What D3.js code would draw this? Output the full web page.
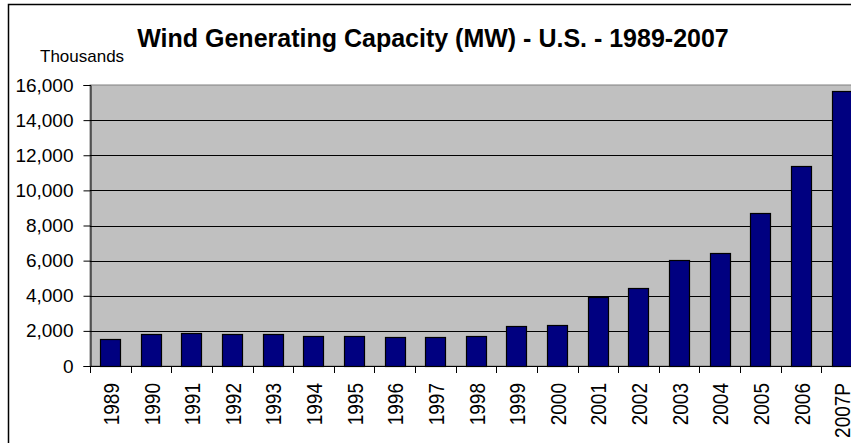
<!DOCTYPE html>
<html>
<head>
<meta charset="utf-8">
<script src="https://cdn.jsdelivr.net/npm/d3@7"></script>
<style>
  body { margin: 0; background: #fff; }
  text { font-family: "Liberation Sans", Arial, sans-serif; fill: #000; }
</style>
</head>
<body>
<svg width="851" height="443"></svg>
<script>
// data (MW)
let years = ["1989","1990","1991","1992","1993","1994","1995","1996","1997","1998",
             "1999","2000","2001","2002","2003","2004","2005","2006","2007P"];
let capacity = [1525, 1810, 1880, 1810, 1810, 1730, 1730, 1640, 1640, 1720,
                2260, 2360, 3920, 4450, 6010, 6460, 8720, 11370, 15660];
let yTicks = [0, 2000, 4000, 6000, 8000, 10000, 12000, 14000, 16000];

let svg = d3.select('svg');

// outer chart border (runs off the window on the right and bottom)
svg.append("rect")
  .attr("x", 8.5).attr("y", 4.5)
  .attr("width", 900).attr("height", 500)
  .attr("fill", "#fff")
  .attr("stroke", "#000")
  .attr("stroke-width", 1.5);

let plotLeft = 90, plotRight = 862, plotTop = 85, plotBottom = 366;

let xScale = d3.scaleBand()
  .domain(years)
  .range([plotLeft, plotRight])
  .paddingInner(0.5)
  .paddingOuter(0.25);

let yScale = d3.scaleLinear()
  .domain([0, 16000])
  .range([plotBottom, plotTop]);

// plot area
svg.append("rect")
  .attr("x", plotLeft).attr("y", plotTop)
  .attr("width", plotRight - plotLeft).attr("height", plotBottom - plotTop)
  .attr("fill", "#c0c0c0")
  .attr("stroke", "#808080")
  .attr("stroke-width", 1);

// gridlines
svg.append("g")
  .selectAll("line")
  .data(yTicks.filter(d => d > 0 && d < 16000))
  .enter()
  .append("line")
  .attr("x1", plotLeft).attr("x2", plotRight)
  .attr("y1", d => Math.round(yScale(d)) + 0.5)
  .attr("y2", d => Math.round(yScale(d)) + 0.5)
  .attr("stroke", "#000")
  .attr("stroke-width", 1);

// bars
svg.append("g")
  .selectAll("rect")
  .data(capacity)
  .enter()
  .append("rect")
  .attr("x", (d, i) => Math.round(xScale(years[i])) + 0.5)
  .attr("y", d => Math.round(yScale(d)) + 0.5)
  .attr("width", Math.round(xScale.bandwidth()))
  .attr("height", d => Math.round(yScale(0)) - Math.round(yScale(d)))
  .attr("fill", "#000080")
  .attr("stroke", "#000")
  .attr("stroke-width", 1.2);

// y axis
let yAxis = svg.append("g")
  .attr("transform", "translate(" + (plotLeft + 0.5) + ",0)")
  .call(d3.axisLeft(yScale).tickValues(yTicks).tickSize(7).tickPadding(10)
        .tickFormat(d3.format(",")));
yAxis.select(".domain").attr("stroke", "#000");
yAxis.selectAll(".tick line").attr("stroke", "#000");
yAxis.selectAll("text")
  .style("font-size", "19px")
  .attr("font-family", null);

// x axis: ticks sit on the category boundaries
let step = xScale.step();
let boundaries = years.map((d, i) => plotLeft + i * step);
let xg = svg.append("g");
xg.append("line")
  .attr("x1", plotLeft).attr("x2", plotRight)
  .attr("y1", plotBottom + 0.5).attr("y2", plotBottom + 0.5)
  .attr("stroke", "#000");
xg.selectAll("line.tick")
  .data(boundaries)
  .enter()
  .append("line")
  .attr("class", "tick")
  .attr("x1", d => Math.round(d) + 0.5).attr("x2", d => Math.round(d) + 0.5)
  .attr("y1", plotBottom).attr("y2", plotBottom + 7)
  .attr("stroke", "#000");
// rotated labels are a bit stretched across in the original
xg.selectAll("text")
  .data(years)
  .enter()
  .append("text")
  .attr("transform", d => "translate(" + (xScale(d) + xScale.bandwidth() / 2 + 0.5) + "," + 383 + ") rotate(-90) scale(1,1.18)")
  .attr("text-anchor", "end")
  .attr("dy", "0.36em")
  .style("font-size", "19px")
  .text(d => d);

// titles
svg.append("text")
  .attr("x", 433).attr("y", 47)
  .attr("text-anchor", "middle")
  .style("font-size", "25px")
  .style("font-weight", "bold")
  .text("Wind Generating Capacity (MW) - U.S. - 1989-2007");

svg.append("text")
  .attr("x", 40).attr("y", 62)
  .style("font-size", "17px")
  .text("Thousands");
</script>
</body>
</html>
